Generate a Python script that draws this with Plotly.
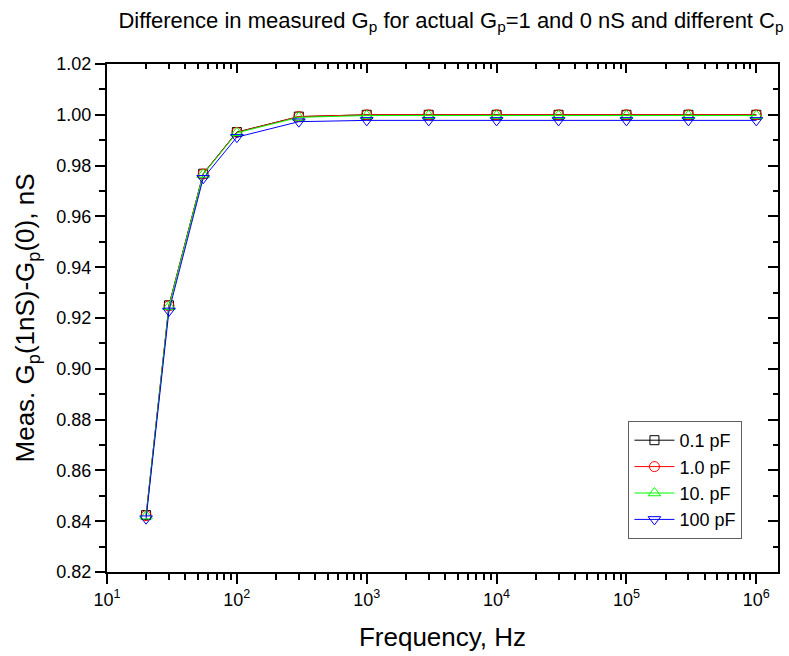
import plotly.graph_objects as go

freq = [20, 30, 55, 100, 300, 1000, 3000, 1e4, 3e4, 1e5, 3e5, 1e6]
g_01pF = [0.8424, 0.9250, 0.9768, 0.9932, 0.9993, 1.0000, 1.0000, 1.0000, 1.0000, 1.0000, 1.0000, 1.0000]
g_1pF = [0.8422, 0.9248, 0.9767, 0.9931, 0.9993, 1.0000, 1.0000, 1.0000, 1.0000, 1.0000, 1.0000, 1.0000]
g_10pF = [0.8420, 0.9245, 0.9765, 0.9929, 0.9990, 0.9997, 0.9997, 0.9997, 0.9997, 0.9997, 0.9997, 0.9997]
g_100pF = [0.8410, 0.9228, 0.9750, 0.9912, 0.9973, 0.9978, 0.9978, 0.9978, 0.9978, 0.9978, 0.9978, 0.9978]

series_names = ["0.1 pF", "1.0 pF", "10. pF", "100 pF"]
series_colors = ["#000000", "#FF0000", "#00FF00", "#0000FF"]
series_symbols = ["square-open", "circle-open", "triangle-up-open", "triangle-down-open"]
series_sizes = [9, 10, 11, 11]

xtick_vals = [1e1, 1e2, 1e3, 1e4, 1e5, 1e6]
xtick_text = ["10<sup>1</sup>", "10<sup>2</sup>", "10<sup>3</sup>", "10<sup>4</sup>", "10<sup>5</sup>", "10<sup>6</sup>"]

FONT = "Liberation Sans, Arial, sans-serif"

fig = go.Figure()
for vals, name, col, sym, sz in zip([g_01pF, g_1pF, g_10pF, g_100pF], series_names,
                                    series_colors, series_symbols, series_sizes):
    fig.add_trace(go.Scatter(
        x=freq, y=vals, name=name, mode="lines+markers",
        line=dict(color=col, width=1),
        marker=dict(symbol=sym, size=sz, color=col, line=dict(color=col, width=1)),
    ))

# helper trace for mirrored (inward) ticks on top/right
fig.add_trace(go.Scatter(x=[], y=[], xaxis="x2", yaxis="y2", showlegend=False, hoverinfo="skip"))

xr = [1, 6.167]
yr = [0.82, 1.02]

fig.update_layout(
    width=789, height=656,
    margin=dict(l=107, r=9, t=64, b=84),
    paper_bgcolor="white", plot_bgcolor="white",
    font=dict(family=FONT, color="black", size=17),
    title=dict(
        text="Difference in measured G<sub>p</sub> for actual G<sub>p</sub>=1 and 0 nS and different C<sub>p</sub>",
        x=451 / 789, xanchor="center", xref="container",
        y=1 - 20 / 656, yanchor="middle", yref="container",
        font=dict(size=22, family=FONT, color="black"),
    ),
    xaxis=dict(
        type="log", range=xr, tickvals=xtick_vals, ticktext=xtick_text,
        ticks="outside", ticklen=10, tickwidth=2, tickcolor="black",
        showline=True, linewidth=2, linecolor="black", mirror=True,
        showgrid=False, zeroline=False,
        tickfont=dict(size=18),
        minor=dict(dtick="D1", ticks="outside", ticklen=6, tickwidth=1.5, tickcolor="black", showgrid=False),
        title=dict(text="Frequency, Hz", font=dict(size=26), standoff=19),
    ),
    yaxis=dict(
        range=yr, dtick=0.02, tick0=0.82, tickformat=".2f",
        ticks="outside", ticklen=10, tickwidth=2, tickcolor="black",
        showline=True, linewidth=2, linecolor="black", mirror=True,
        showgrid=False, zeroline=False,
        tickfont=dict(size=18),
        minor=dict(dtick=0.01, ticks="outside", ticklen=6, tickwidth=1.5, tickcolor="black", showgrid=False),
        title=dict(text="Meas. G<sub>p</sub>(1nS)-G<sub>p</sub>(0), nS", font=dict(size=26), standoff=14),
    ),
    xaxis2=dict(
        type="log", range=xr, overlaying="x", side="top", anchor="y2",
        tickvals=xtick_vals, showticklabels=False,
        ticks="inside", ticklen=9, tickwidth=2, tickcolor="black",
        showline=False, showgrid=False, zeroline=False,
        minor=dict(dtick="D1", ticks="inside", ticklen=5, tickwidth=1.5, tickcolor="black", showgrid=False),
    ),
    yaxis2=dict(
        range=yr, overlaying="y", side="right", anchor="x2",
        dtick=0.02, tick0=0.82, showticklabels=False,
        ticks="inside", ticklen=10, tickwidth=2, tickcolor="black",
        showline=False, showgrid=False, zeroline=False,
        minor=dict(dtick=0.01, ticks="inside", ticklen=5, tickwidth=1.5, tickcolor="black", showgrid=False),
    ),
    legend=dict(
        x=(630 - 107) / 673, xanchor="left",
        y=(572 - 421) / 508, yanchor="top",
        bgcolor="white", bordercolor="#606060", borderwidth=1,
        font=dict(size=18), tracegroupgap=0, itemwidth=40,
    ),
    showlegend=True,
)

fig.write_html("out.html")
